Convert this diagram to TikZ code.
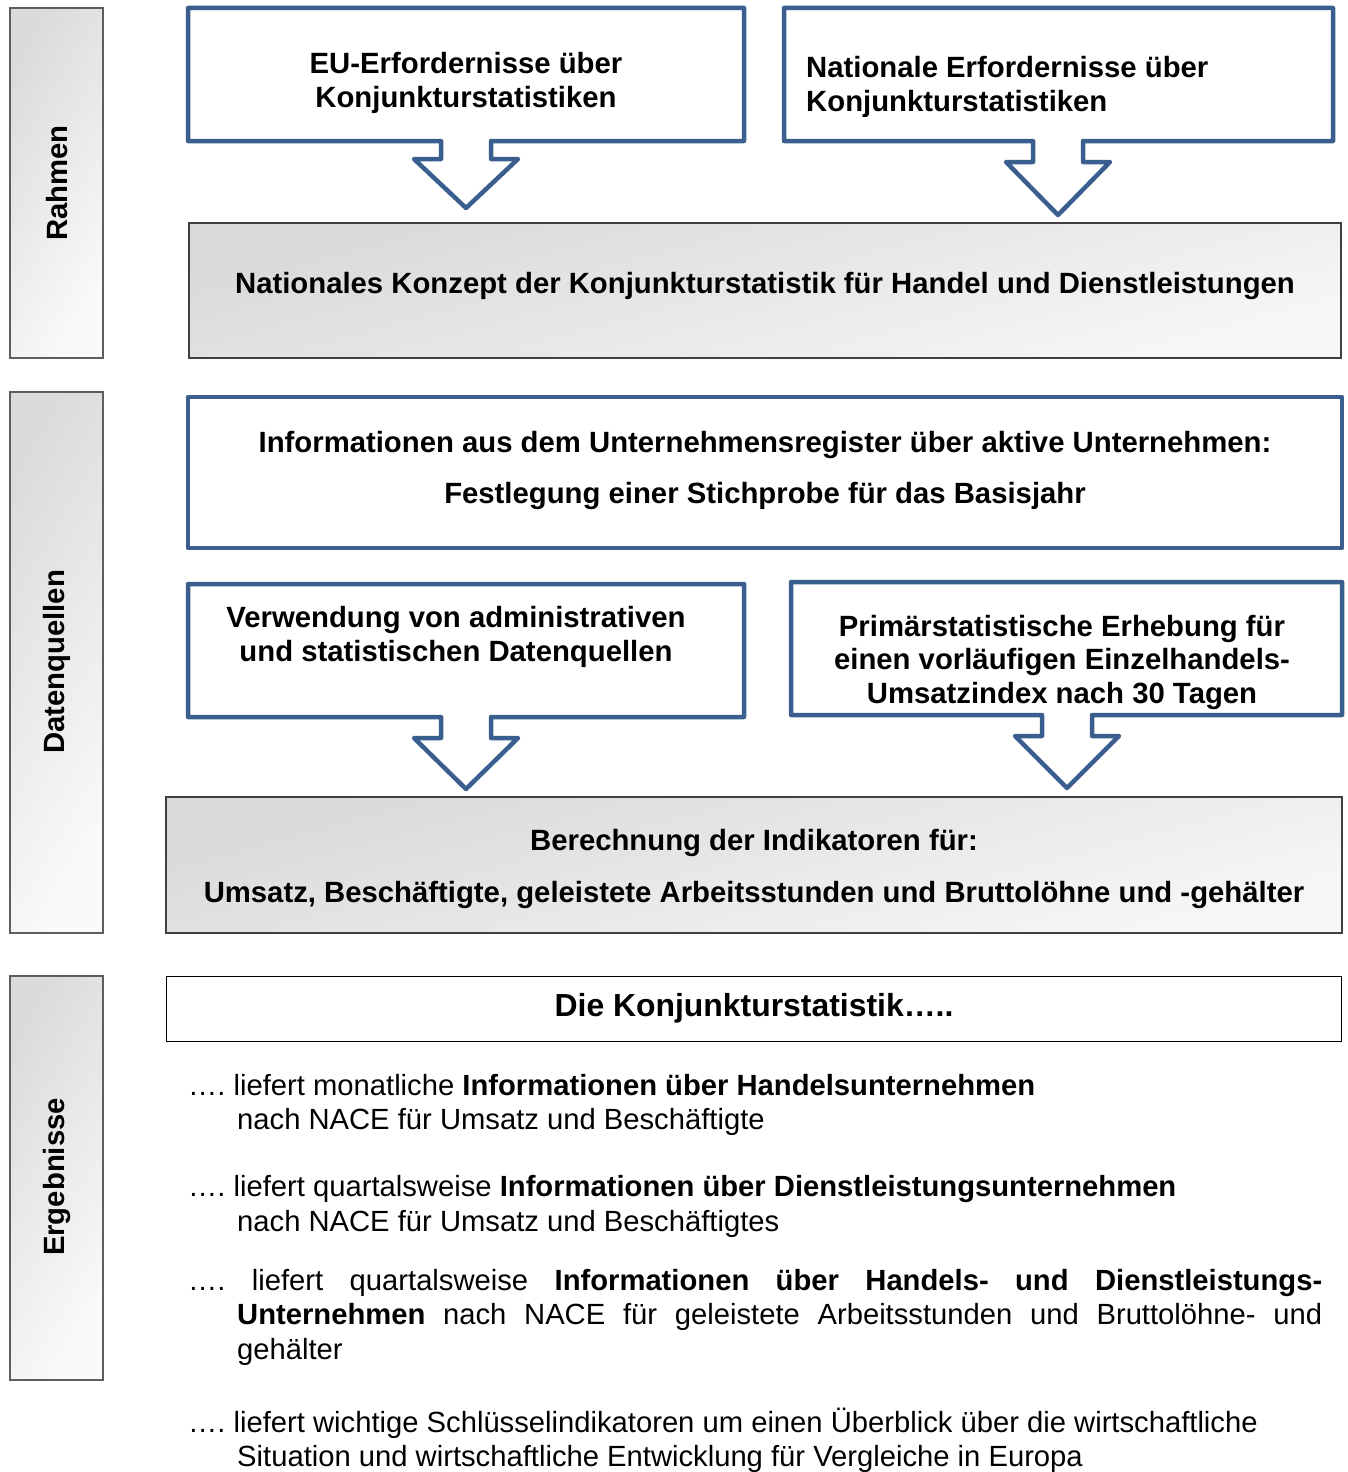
\documentclass[tikz,border=0pt]{standalone}
\usepackage{fontspec}
\setmainfont{Liberation Sans}
\usetikzlibrary{calc}
\definecolor{bblue}{HTML}{3A5F8E}
\definecolor{gframe}{HTML}{5E5E5E}
\definecolor{dframe}{HTML}{404040}
\newcommand\calloutbox[8]{%
  \draw[bluebox] (#1,#2) -- (#3,#2) -- (#3,#4) -- (#5+25,#4) -- (#5+25,#6) -- (#5+52,#6) -- (#5,#7)
    -- (#5-52,#6) -- (#5-25,#6) -- (#5-25,#4) -- (#1,#4) -- cycle;
  \coordinate (#8) at (#5,#7);}
\frenchspacing
\begin{document}
\begin{tikzpicture}[x=1pt,y=-1pt,
  bluebox/.style={draw=bblue, line width=4.5pt, line join=round, fill=white},
  sidebox/.style={draw=gframe, line width=2.5pt, shading=axis, left color=gray!28, right color=gray!4, shading angle=60},
  graybox/.style={draw=dframe, line width=1.5pt, shading=axis, top color=gray!30, bottom color=gray!6, shading angle=15},
  boxtext/.style={font=\fontsize{29.3}{34}\selectfont\bfseries, inner sep=0pt, align=center},
  sidetext/.style={font=\fontsize{29.3}{30}\selectfont\bfseries, inner sep=0pt, rotate=90},
  bodytext/.style={font=\fontsize{29.2}{34}\selectfont, inner sep=0pt, anchor=base west}
]
\useasboundingbox (0,0) rectangle (1348,1472);

% side panels
\draw[sidebox] (10,8) rectangle (103,358);
\node[sidetext] (s1) at (57,183) {Rahmen};
\draw[sidebox] (10,392) rectangle (103,933);
\node[sidetext] (s2) at (57,662) {Datenquellen};
\draw[sidebox] (10,976) rectangle (103,1380);
\node[sidetext] (s3) at (57,1177) {Ergebnisse};

% Rahmen
\draw[graybox] (189,223) rectangle (1341,358);
\node[boxtext] (konzept) at (765,286) {Nationales Konzept der Konjunkturstatistik für Handel und Dienstleistungen};
\calloutbox{188}{8}{744}{141}{466}{159}{208}{t1}
\calloutbox{784}{8}{1333}{141}{1058}{162}{215}{t2}
\node[boxtext] (eu) at (466,83) {EU-Erfordernisse über\\Konjunkturstatistiken};
\node[boxtext, align=left, anchor=west] (nat) at (806,87) {Nationale Erfordernisse über\\Konjunkturstatistiken};

% Datenquellen
\draw[bluebox] (188,397) rectangle (1342,548);
\node[boxtext, font=\fontsize{29.3}{51}\selectfont\bfseries] (reg) at (765,470) {Informationen aus dem Unternehmensregister über aktive Unternehmen:\\Festlegung einer Stichprobe für das Basisjahr};
\draw[graybox] (166,797) rectangle (1342,933);
\node[boxtext, font=\fontsize{29.3}{52}\selectfont\bfseries] (ber) at (754,869) {Berechnung der Indikatoren für:\\Umsatz, Beschäftigte, geleistete Arbeitsstunden und Bruttolöhne und -gehälter};
\calloutbox{188}{584}{744}{717}{466}{738}{789}{t3}
\calloutbox{791}{582}{1342}{715}{1067}{736}{788}{t4}
\node[boxtext] (verw) at (456,637) {Verwendung von administrativen\\und statistischen Datenquellen};
\node[boxtext, font=\fontsize{29.3}{33.5}\selectfont\bfseries] (prim) at (1062,662) {Primärstatistische Erhebung für\\einen vorläufigen Einzelhandels-\\Umsatzindex nach 30 Tagen};

% Ergebnisse
\draw[draw=black, line width=1pt, fill=white] (166,976) rectangle (1341,1041);
\node[boxtext, font=\fontsize{31.9}{34}\selectfont\bfseries] (die) at (754,1008) {Die Konjunkturstatistik…..};

\node[bodytext] (b1a) at (188,1095) {…. liefert monatliche \textbf{Informationen über Handelsunternehmen}};
\node[bodytext] (b1b) at (237,1129) {nach NACE für Umsatz und Beschäftigte};
\node[bodytext] (b2a) at (188,1196) {…. liefert quartalsweise \textbf{Informationen über Dienstleistungsunternehmen}};
\node[bodytext] (b2b) at (237,1231) {nach NACE für Umsatz und Beschäftigtes};
\node[bodytext] (b3a) at (188,1290) {\makebox[1134pt][s]{…. liefert quartalsweise \textbf{Informationen über Handels- und Dienstleistungs-}}};
\node[bodytext] (b3b) at (237,1324) {\makebox[1085pt][s]{\textbf{Unternehmen} nach NACE für geleistete Arbeitsstunden und Bruttolöhne- und}};
\node[bodytext] (b3c) at (237,1359) {gehälter};
\node[bodytext] (b4a) at (188,1432) {…. liefert wichtige Schlüsselindikatoren um einen Überblick über die wirtschaftliche};
\node[bodytext] (b4b) at (237,1466) {Situation und wirtschaftliche Entwicklung für Vergleiche in Europa};
\end{tikzpicture}
\end{document}
